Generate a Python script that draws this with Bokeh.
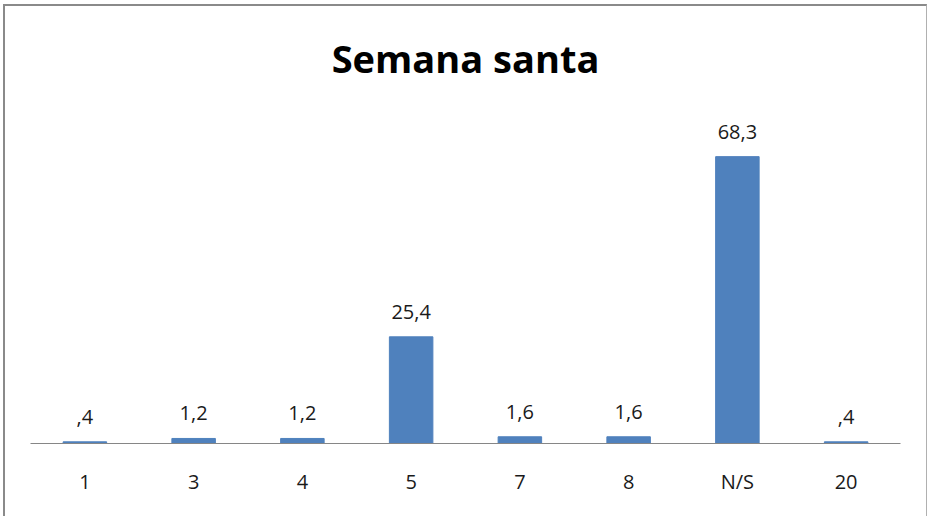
from bokeh.plotting import figure
from bokeh.models import ColumnDataSource, LabelSet, Range1d
from bokeh.core.properties import value
from bokeh.embed import file_html
from bokeh.resources import INLINE

categories = ["1", "3", "4", "5", "7", "8", "N/S", "20"]
values = [0.4, 1.2, 1.2, 25.4, 1.6, 1.6, 68.3, 0.4]


def fmt(v):
    s = f"{v:.1f}".replace(".", ",")
    if s.startswith("0,"):
        s = s[1:]
    return s


labels = [fmt(v) for v in values]
source = ColumnDataSource(data=dict(cat=categories, val=values, lab=labels))

p = figure(x_range=categories, y_range=Range1d(0, 80), width=924, height=512,
           output_backend="svg", toolbar_location=None,
           min_border_left=25, min_border_right=29, min_border_bottom=75,
           min_border_top=100, title="Semana santa")
p.styles = {"margin-left": "3px", "margin-top": "4px",
            "border-top": "2px solid #8a8a8a", "border-left": "2px solid #8a8a8a",
            "border-right": "1px solid #b0b0b0"}

p.vbar(x="cat", top="val", width=0.4, source=source,
       fill_color="#4F81BD", line_color="#4F81BD")

p.add_layout(LabelSet(x="cat", y="val", text="lab", source=source,
                      text_align="center", text_baseline="alphabetic", y_offset=18,
                      text_font=value("Open Sans"), text_font_size="20px",
                      text_color="#1a1a1a"))

p.title.align = "center"
p.title.text_font = "Open Sans"
p.title.text_font_size = "38px"
p.title.text_font_style = "bold"
p.title.text_color = "#000000"
p.title.standoff = 47

p.yaxis.visible = False
p.xgrid.grid_line_color = None
p.ygrid.grid_line_color = None
p.outline_line_color = None
p.xaxis.axis_line_color = "#868686"
p.xaxis.major_tick_line_color = None
p.xaxis.minor_tick_line_color = None
p.xaxis.major_tick_out = 0
p.xaxis.major_label_standoff = 24
p.xaxis.major_label_text_font = "Open Sans"
p.xaxis.major_label_text_font_size = "20px"
p.xaxis.major_label_text_color = "#1a1a1a"
p.x_range.range_padding = 0

open("out.html", "w").write(file_html(p, INLINE))
